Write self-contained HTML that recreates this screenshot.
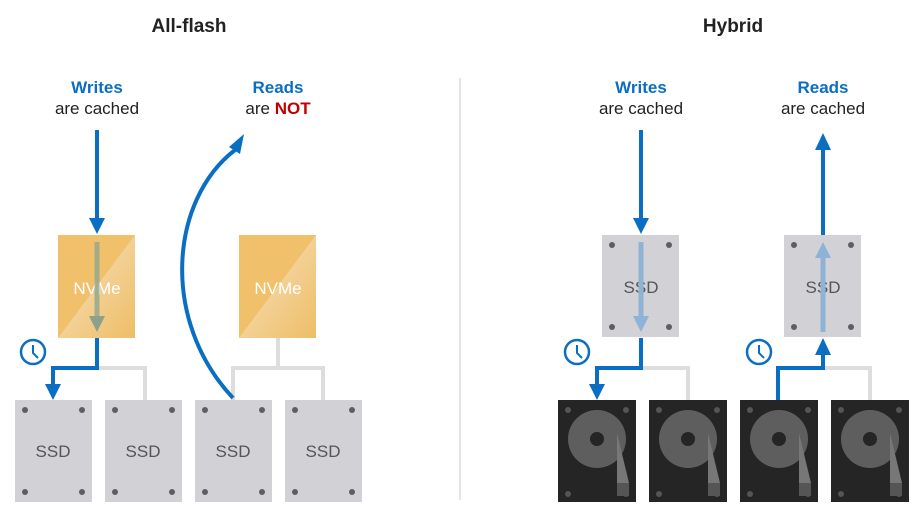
<!DOCTYPE html>
<html><head><style>
body{margin:0;background:#fff;}
svg{display:block;font-family:"Liberation Sans",sans-serif;}
</style></head><body>
<svg width="920" height="512" viewBox="0 0 920 512">
<defs>
<linearGradient id="nv" x1="0" y1="0" x2="1" y2="1">
<stop offset="0" stop-color="#f0c06a"/><stop offset="0.5" stop-color="#f0c06a"/><stop offset="0.5" stop-color="#f3d095"/><stop offset="1" stop-color="#edbe66"/></linearGradient>
<g id="ssd"><rect width="77" height="102" fill="#d2d2d6"/><circle cx="10" cy="10" r="3" fill="#5d5d66"/><circle cx="67" cy="10" r="3" fill="#5d5d66"/><circle cx="10" cy="92" r="3" fill="#5d5d66"/><circle cx="67" cy="92" r="3" fill="#5d5d66"/></g>
<g id="hdd"><rect width="78" height="102" fill="#252525"/><circle cx="10" cy="10" r="3" fill="#555"/><circle cx="68" cy="10" r="3" fill="#555"/><circle cx="10" cy="94" r="3" fill="#555"/><circle cx="68" cy="94" r="3" fill="#555"/><circle cx="39" cy="39" r="29" fill="#5e5e5e"/><circle cx="39" cy="39" r="7" fill="#252525"/><polygon points="59,33 71,83 59,83" fill="#777"/><rect x="59" y="83" width="12" height="13" fill="#555"/></g>
<g id="clk"><circle r="12" fill="#fff" stroke="#0a6fc2" stroke-width="2.5"/><path d="M0,-7 V1 L5,6" stroke="#0a6fc2" stroke-width="2" fill="none"/></g>
</defs>
<text x="189" y="32" font-size="19" font-weight="bold" text-anchor="middle" fill="#222">All-flash</text>
<text x="733" y="32" font-size="19" font-weight="bold" text-anchor="middle" fill="#222">Hybrid</text>
<line x1="460" y1="78" x2="460" y2="500" stroke="#e4e4e4" stroke-width="2"/>
<g font-size="17" text-anchor="middle">
<text x="97" y="93" fill="#0a6fc2" font-weight="bold">Writes</text><text x="97" y="114" fill="#222">are cached</text>
<text x="278" y="93" fill="#0a6fc2" font-weight="bold">Reads</text><text x="278" y="114" fill="#222">are <tspan fill="#c00000" font-weight="bold">NOT</tspan></text>
<text x="641" y="93" fill="#0a6fc2" font-weight="bold">Writes</text><text x="641" y="114" fill="#222">are cached</text>
<text x="823" y="93" fill="#0a6fc2" font-weight="bold">Reads</text><text x="823" y="114" fill="#222">are cached</text>
</g>
<g stroke="#dddddd" stroke-width="4" fill="none">
<path d="M97,368 H145 V400"/><path d="M278,338 V368 M233,400 V368 H323 V400"/>
<path d="M641,368 H688 V400"/><path d="M823,368 H870 V400"/>
</g>
<rect x="58" y="235" width="77" height="103" fill="url(#nv)"/>
<rect x="239" y="235" width="77" height="103" fill="url(#nv)"/>
<text x="97" y="294" font-size="17" fill="#fff" text-anchor="middle">NVMe</text>
<text x="278" y="294" font-size="17" fill="#fff" text-anchor="middle">NVMe</text>
<use href="#ssd" x="15" y="400"/><use href="#ssd" x="105" y="400"/><use href="#ssd" x="195" y="400"/><use href="#ssd" x="285" y="400"/>
<g font-size="17" fill="#555" text-anchor="middle"><text x="53" y="457">SSD</text><text x="143" y="457">SSD</text><text x="233" y="457">SSD</text><text x="323" y="457">SSD</text></g>
<use href="#ssd" x="602" y="235"/><use href="#ssd" x="784" y="235"/>
<text x="641" y="293" font-size="17" fill="#555" text-anchor="middle">SSD</text>
<text x="823" y="293" font-size="17" fill="#555" text-anchor="middle">SSD</text>
<use href="#hdd" x="558" y="400"/><use href="#hdd" x="649" y="400"/><use href="#hdd" x="740" y="400"/><use href="#hdd" x="831" y="400"/>
<path d="M97,242 V318" stroke="#8fa88f" stroke-width="5" opacity="0.8"/><polygon points="89,316 105,316 97,332" fill="#8fa08a"/>
<path d="M641,242 V318" stroke="#8fb3d6" stroke-width="5"/><polygon points="633,316 649,316 641,332" fill="#8fb3d6"/>
<path d="M823,332 V256" stroke="#8fb3d6" stroke-width="5"/><polygon points="815,258 831,258 823,242" fill="#8fb3d6"/>
<g stroke="#0a6fc2" stroke-width="4" fill="none">
<path d="M97,130 V220"/><path d="M641,130 V220"/><path d="M823,235 V148"/>
<path d="M233,398 C160,320 170,200 235,150"/>
<path d="M97,338 V368 H53 V386"/><path d="M641,338 V368 H597 V386"/>
<path d="M778,400 V368 H823 V354"/>
</g>
<g fill="#0a6fc2">
<polygon points="89,218 105,218 97,234"/><polygon points="633,218 649,218 641,234"/>
<polygon points="815,150 831,150 823,133"/>
<polygon points="229,147 244,134 240,154"/>
<polygon points="45,384 61,384 53,400"/><polygon points="589,384 605,384 597,400"/>
<polygon points="815,355 831,355 823,338"/>
</g>
<use href="#clk" x="33" y="352"/><use href="#clk" x="577" y="352"/><use href="#clk" x="759" y="352"/>
</svg>
</body></html>
